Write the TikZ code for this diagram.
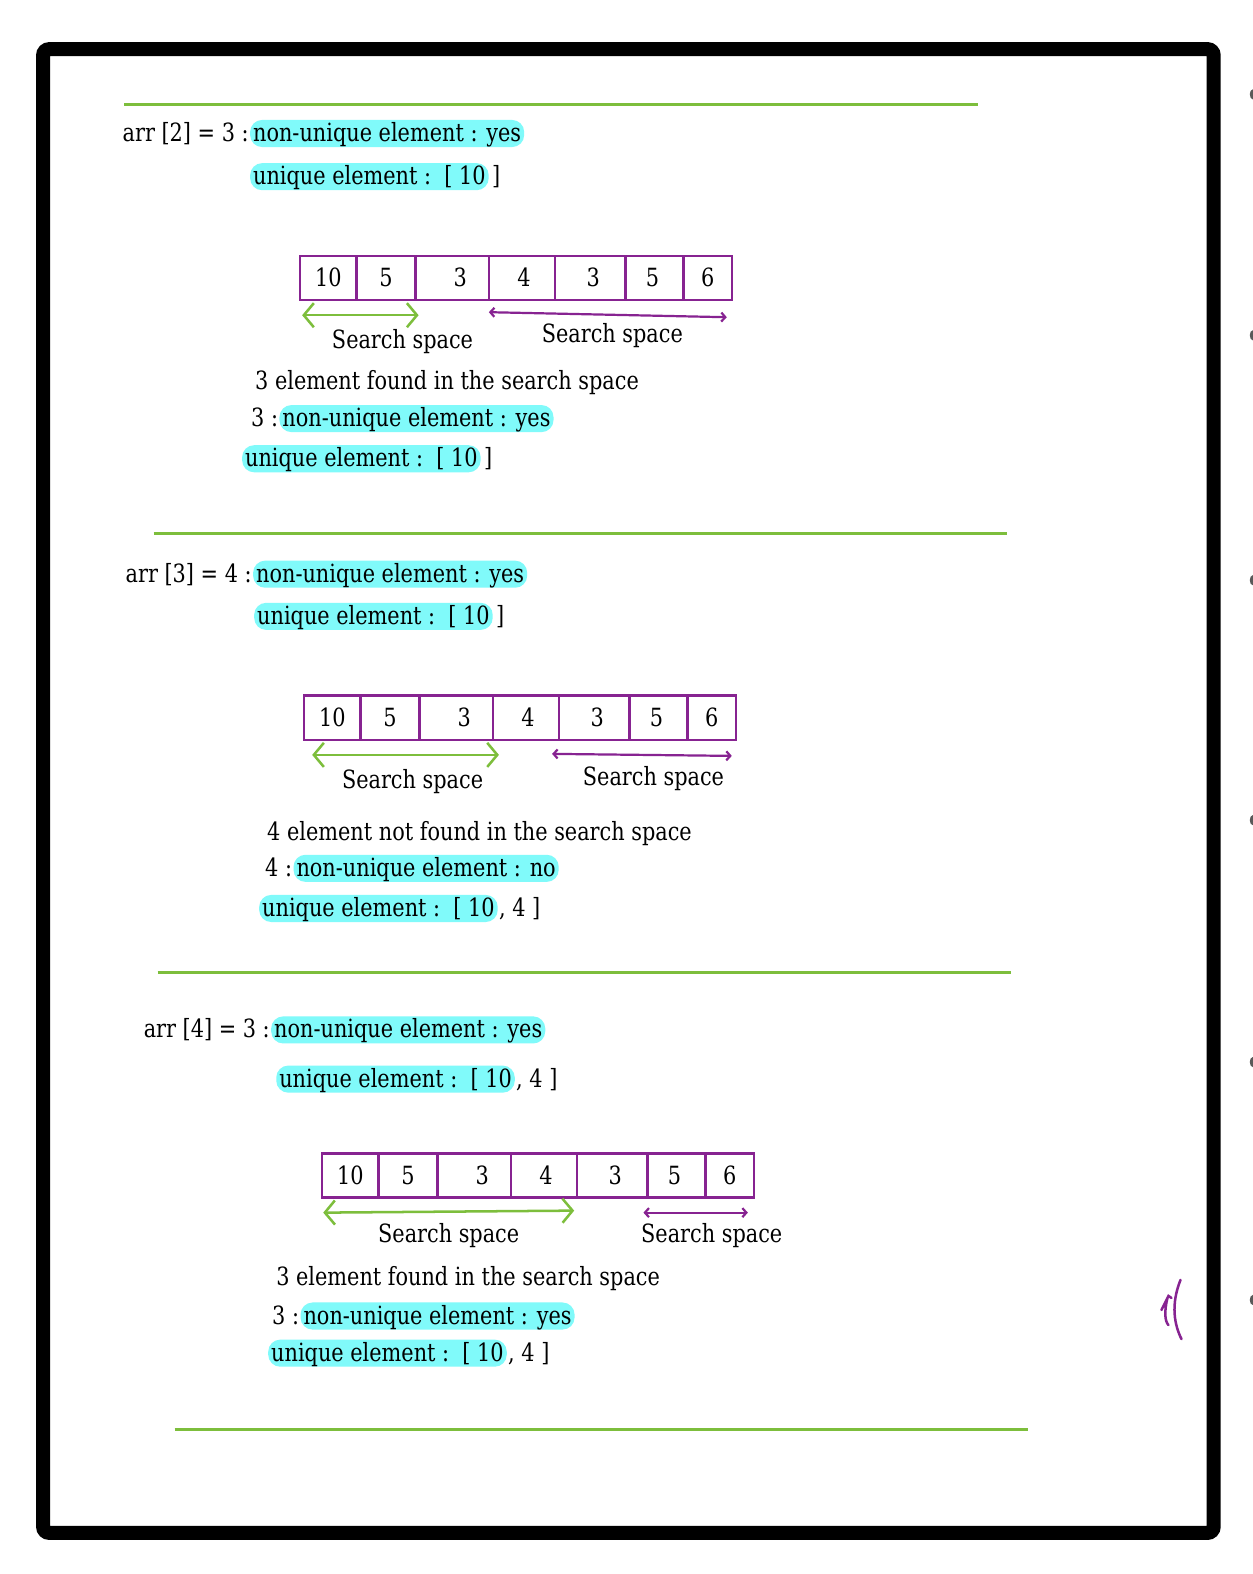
\documentclass[tikz,border=0pt]{standalone}
\usepackage{fontspec}
\setmainfont{DejaVu Serif}[FakeStretch=0.83]
\usetikzlibrary{positioning,arrows.meta}
\definecolor{hlcyan}{RGB}{128,250,250}
\definecolor{arrpurple}{RGB}{135,35,145}
\definecolor{linegreen}{RGB}{125,190,60}
\tikzset{
 txt/.style={anchor=west,inner sep=0pt,text height=20pt,text depth=4pt,font=\fontsize{25}{28}\selectfont},
 hl/.style={txt,fill=hlcyan,rounded corners=12pt,inner xsep=3pt,inner ysep=1.5pt},
 cell/.style={draw=arrpurple,line width=2.5pt,minimum height=44pt,outer sep=0pt,inner sep=0pt,font=\fontsize{25}{28}\selectfont},
 sepline/.style={linegreen,line width=3pt},
 garrow/.style={linegreen,line width=2.5pt,{Straight Barb[length=10pt,width=24pt]}-{Straight Barb[length=10pt,width=24pt]}},
 parrow/.style={arrpurple,line width=2.2pt,{Straight Barb[length=4pt,width=9pt]}-{Straight Barb[length=4pt,width=9pt]}},
}
\begin{document}
\begin{tikzpicture}[x=1pt,y=-1pt]
\fill[white](0,0)rectangle(1248,1568);
\useasboundingbox(0,0)rectangle(1248,1568);
\draw[line width=14pt,rounded corners=6pt](43,49)rectangle(1209,1527);
\foreach \yd in {104,344,588,827,1068,1305}{\fill[black!65](1248,\yd-5)arc(90:270:3 and 5)--cycle;}
\foreach \ly/\lx in {104/124,531/153,969/157,1424/174}{\draw[sepline](\lx,\ly)--++(850,0);}
\foreach \s/\ax/\ay in {1/299/277,2/303/715,3/321/1171}{
 \foreach \i/\xa/\xb/\v/\dx in {1/0/56/10/0,2/56/115/5/0,3/115/188/3/8,4/188/254/4/2,5/254/324/3/3,6/324/382/5/-2,7/382/430/6/0}{
  \pgfmathsetmacro\cw{\xb-\xa}
  \node[cell,minimum width=\cw pt,text height=17pt,text depth=0pt,inner xsep=0pt](c\s-\i)at(\ax+\xa/2+\xb/2,\ay){\hspace*{\dx pt}\hspace*{\dx pt}\v};
 }}
\node[txt](arr1)at(122,133){arr [2] = 3 :};
\node[hl,right=1pt of arr1](nu1){non-unique element : yes};
\node[hl](u1)at(249,176){unique element :\ \ [ 10};
\node[txt,right=3pt of u1](ub1){]};
\coordinate(g1l)at(301,314);\coordinate(g1r)at(417,314);
\coordinate(p1l)at(487,311);\coordinate(p1r)at(724,316);
\draw[garrow](g1l)--(g1r);
\draw[parrow](p1l)--(p1r);
\node[txt,anchor=center](ss1a)at(401,339){Search space};
\node[txt,anchor=center](ss1b)at(610,333){Search space};
\node[txt](f1)at(254,380){3 element found in the search space};
\node[txt](k1)at(250,417){3 :};
\node[hl,right=1pt of k1](nk1){non-unique element : yes};
\node[hl](uk1)at(241,457){unique element :\ \ [ 10};
\node[txt,right=3pt of uk1](ukb1){]};
\node[txt](arr2)at(125,572){arr [3] = 4 :};
\node[hl,right=1pt of arr2](nu2){non-unique element : yes};
\node[hl](u2)at(253,614){unique element :\ \ [ 10};
\node[txt,right=3pt of u2](ub2){]};
\coordinate(g2l)at(311,752);\coordinate(g2r)at(497,752);
\coordinate(p2l)at(550,751);\coordinate(p2r)at(729,753);
\draw[garrow](g2l)--(g2r);
\draw[parrow](p2l)--(p2r);
\node[txt,anchor=center](ss2a)at(411,777){Search space};
\node[txt,anchor=center](ss2b)at(651,774){Search space};
\node[txt](f2)at(266,829){4 element not found in the search space};
\node[txt](k2)at(264,865){4 :};
\node[hl,right=1pt of k2](nk2){non-unique element : no};
\node[hl](uk2)at(258,905){unique element :\ \ [ 10};
\node[txt,right=1pt of uk2](ukb2){, 4 ]};
\node[txt](arr3)at(143,1026){arr [4] = 3 :};
\node[hl,right=1pt of arr3](nu3){non-unique element : yes};
\node[hl](u3)at(275,1075){unique element :\ \ [ 10};
\node[txt,right=1pt of u3](ub3){, 4 ]};
\coordinate(g3l)at(322,1208);\coordinate(g3r)at(572,1206);
\coordinate(p3l)at(641,1208);\coordinate(p3r)at(745,1208);
\draw[garrow](g3l)--(g3r);
\draw[parrow](p3l)--(p3r);
\node[txt,anchor=center](ss3a)at(447,1230){Search space};
\node[txt,anchor=center](ss3b)at(709,1230){Search space};
\node[txt](f3)at(275,1273){3 element found in the search space};
\node[txt](k3)at(271,1311){3 :};
\node[hl,right=1pt of k3](nk3){non-unique element : yes};
\node[hl](uk3)at(267,1348){unique element :\ \ [ 10};
\node[txt,right=1pt of uk3](ukb3){, 4 ]};
\draw[arrpurple,line width=2.5pt,line cap=round](1176,1275)..controls(1166,1300)and(1170,1320)..(1177,1334);
\draw[arrpurple,line width=2.5pt,line cap=round](1157,1305)--(1164,1291)--(1167,1293)(1163,1293)..controls(1160,1305)and(1160,1316)..(1164,1320);
\end{tikzpicture}
\end{document}
